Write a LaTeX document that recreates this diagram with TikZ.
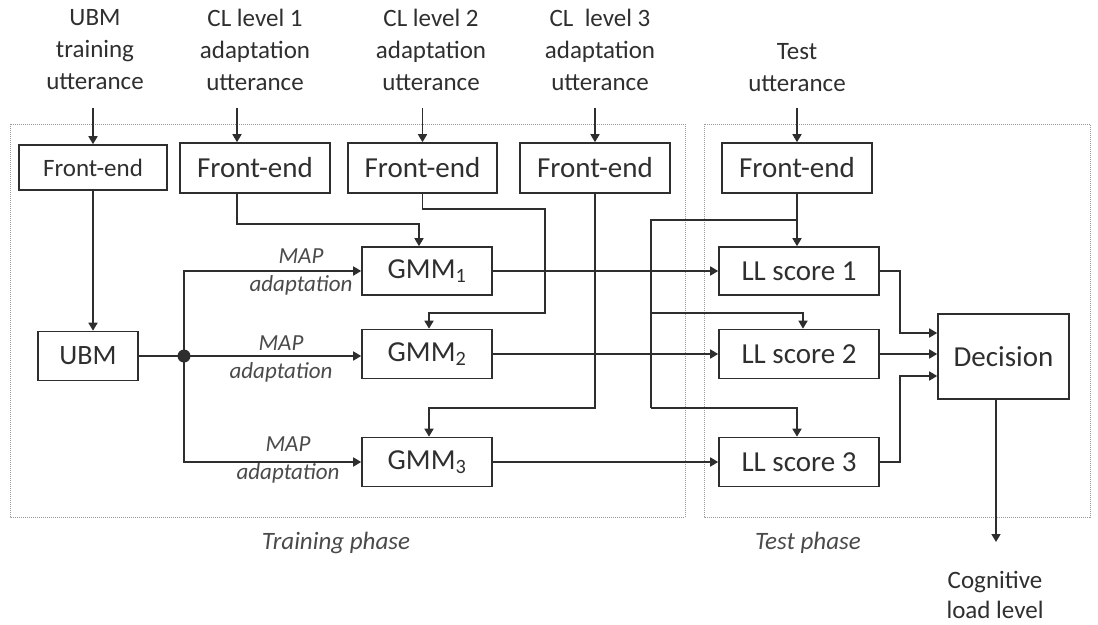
\documentclass[tikz,border=0pt]{standalone}
\usepackage{fontspec}
\setmainfont{Carlito}
\usetikzlibrary{arrows.meta,calc}
\definecolor{ink}{HTML}{2E2E2E}
\definecolor{txt}{HTML}{2F2F2F}
\definecolor{soft}{HTML}{4A4A4A}
\definecolor{frm}{HTML}{9A9A9A}
\tikzset{
  box/.style={draw=ink,line width=1.6pt,inner sep=0pt,text=txt,font=\fontsize{29}{34}\selectfont},
  lbl/.style={align=center,text=txt,inner sep=0pt,font=\fontsize{25}{32}\selectfont},
  maplbl/.style={align=center,text=soft,inner sep=0pt,font=\fontsize{23}{28}\selectfont\itshape},
  phase/.style={text=soft,inner sep=0pt,font=\fontsize{25}{30}\selectfont\itshape},
  wire/.style={draw=ink,line width=1.6pt},
  arr/.style={wire,-{Triangle[length=8pt,width=9pt]}},
  frame/.style={draw=frm,line width=1pt,densely dotted}
}
\begin{document}
\begin{tikzpicture}[x=1pt,y=-1pt]
\useasboundingbox (0,0) rectangle (1098,624);
% frames
\draw[frame] (10,124) rectangle (685,517);
\draw[frame] (704,124) rectangle (1090,517);
\node[phase] (trp) at (336,543) {Training phase};
\node[phase] (tsp) at (808,543) {Test phase};
% top labels
\node[lbl] (l0) at (95,50) {UBM\\training\\utterance};
\node[lbl] (l1) at (255,50) {CL level 1\\adaptation\\utterance};
\node[lbl] (l2) at (431,50) {CL level 2\\adaptation\\utterance};
\node[lbl] (l3) at (600,50) {CL\ \ level 3\\adaptation\\utterance};
\node[lbl] (l4) at (797,68) {Test\\utterance};
% front-ends
\node[box,minimum width=148pt,minimum height=45pt,font=\fontsize{25}{30}\selectfont] (fe0) at (93,167.5) {Front-end};
\node[box,minimum width=150pt,minimum height=50pt] (fe1) at (255,168) {Front-end};
\node[box,minimum width=149pt,minimum height=50pt] (fe2) at (422.5,168) {Front-end};
\node[box,minimum width=150pt,minimum height=50pt] (fe3) at (595,168) {Front-end};
\node[box,minimum width=150pt,minimum height=50pt] (fe4) at (797,168) {Front-end};
% inputs
\coordinate (i0) at (93,108);
\coordinate (i1) at (237,108);
\coordinate (i2) at (422.5,108);
\coordinate (i3) at (595,108);
\coordinate (i4) at (797,108);
\draw[arr] (i0) -- (fe0.north);
\draw[arr] (i1) -- (i1 |- fe1.north);
\draw[arr] (i2) -- (fe2.north);
\draw[arr] (i3) -- (fe3.north);
\draw[arr] (i4) -- (fe4.north);
% UBM and GMMs
\node[box,minimum width=100pt,minimum height=49pt,font=\fontsize{28}{32}\selectfont] (ubm) at (88,356) {UBM};
\node[box,minimum width=130pt,minimum height=48pt] (gmm1) at (427,271) {GMM\textsubscript{1}};
\node[box,minimum width=130pt,minimum height=49pt] (gmm2) at (427,354) {GMM\textsubscript{2}};
\node[box,minimum width=130pt,minimum height=49pt] (gmm3) at (427,462) {GMM\textsubscript{3}};
\draw[arr] (fe0.south) -- (fe0.south |- ubm.north);
\coordinate (dot) at (184,356);
\draw[wire] (ubm.east) -- (dot);
\fill[ink] (dot) circle (6.5);
\draw[arr] (dot) |- (gmm1.west);
\draw[arr] (dot) -- (dot -| gmm2.west);
\draw[arr] (dot) |- (gmm3.west);
\node[maplbl] (m1) at (301,272) {MAP\\adaptation};
\node[maplbl] (m2) at (281,359) {MAP\\adaptation};
\node[maplbl] (m3) at (288,460) {MAP\\adaptation};
% adaptation feeds
\coordinate (b1) at (419,224);
\draw[arr] ([xshift=-18pt]fe1.south) |- (b1) -- (b1 |- gmm1.north);
\coordinate (c2a) at (545,209);
\coordinate (c2b) at (429,313);
\draw[arr] (fe2.south) |- (c2a) |- (c2b) -- (c2b |- gmm2.north);
\coordinate (c3) at (429,408);
\draw[arr] (fe3.south) |- (c3) -- (c3 |- gmm3.north);
% LL scores
\node[box,minimum width=160pt,minimum height=48pt] (ll1) at (799,271) {LL score 1};
\node[box,minimum width=160pt,minimum height=49pt] (ll2) at (799,354) {LL score 2};
\node[box,minimum width=160pt,minimum height=49pt] (ll3) at (799,462) {LL score 3};
\draw[arr] (gmm1.east) -- (ll1.west);
\draw[arr] (gmm2.east) -- (ll2.west);
\draw[arr] (gmm3.east) -- (ll3.west);
% test features
\coordinate (t1) at (651,220);
\coordinate (t2) at (651,408);
\coordinate (t3) at (803,313);
\draw[arr] (fe4.south) -- (fe4.south |- ll1.north);
\draw[wire] (fe4.south |- t1) -- (t1) -- (t2);
\draw[arr] (t1 |- t3) -- (t3) -- (t3 |- ll2.north);
\draw[arr] (t2) -| (fe4.south |- ll3.north);
% decision
\node[box,minimum width=131pt,minimum height=85pt] (dec) at (1003.5,356.5) {Decision};
\coordinate (d1) at (900,333);
\coordinate (d3) at (900,376);
\draw[arr] (ll1.east) -| (d1) -- (d1 -| dec.west);
\draw[arr] (ll2.east) -- (ll2.east -| dec.west);
\draw[arr] (ll3.east) -| (d3) -- (d3 -| dec.west);
\coordinate (o1) at (996,542);
\draw[arr] (dec.south -| o1) -- (o1);
\node[lbl,font=\fontsize{25}{30}\selectfont] (out) at (995,595) {Cognitive\\load level};
\end{tikzpicture}
\end{document}
